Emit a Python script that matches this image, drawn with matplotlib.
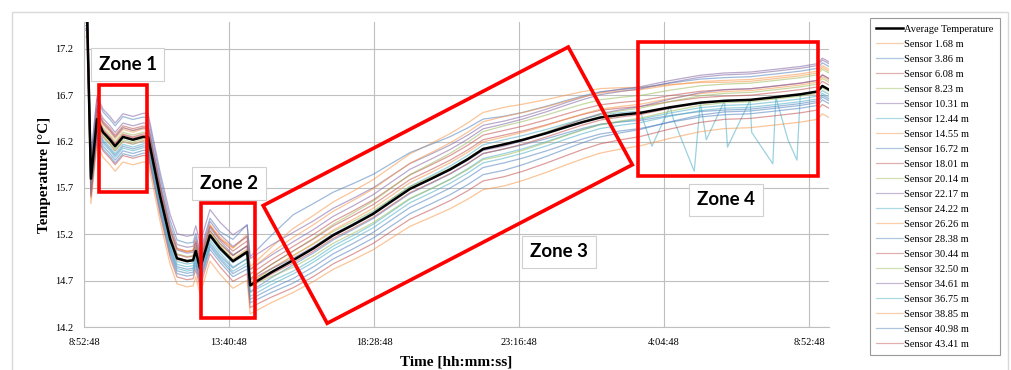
import numpy as np
import matplotlib
matplotlib.use("Agg")
import matplotlib.pyplot as plt
from matplotlib.patches import Rectangle, Polygon

# Average temperature, hours since 8:52:48
avg_t = [0.0, 0.1, 0.23, 0.43, 0.63, 0.86, 1.03, 1.29, 1.62, 1.95, 2.12,
         2.52, 2.85, 3.08, 3.41, 3.61, 3.70, 3.84, 4.17, 4.50, 4.93, 5.40,
         5.50, 6.2, 6.92, 7.6, 8.25, 8.9, 9.57, 10.2, 10.79, 11.5, 12.12,
         12.7, 13.21, 13.9, 14.54, 15.3, 15.99, 16.5, 17.09, 17.8, 18.41,
         19.4, 20.40, 21.2, 22.05, 22.9, 23.71, 24.27, 24.44, 24.66]
avg_v = [17.6, 17.6, 15.80, 16.44, 16.30, 16.22, 16.15, 16.25, 16.22, 16.25, 16.25,
         15.61, 15.15, 14.94, 14.91, 14.92, 15.02, 14.83, 15.19, 15.05, 14.91, 15.01,
         14.65, 14.79, 14.92, 15.05, 15.19, 15.30, 15.42, 15.56, 15.69, 15.80, 15.90,
         16.01, 16.12, 16.17, 16.22, 16.29, 16.36, 16.41, 16.46, 16.49, 16.51,
         16.57, 16.62, 16.64, 16.65, 16.68, 16.71, 16.74, 16.80, 16.76]

sensors = ['1.68', '3.86', '6.08', '8.23', '10.31', '12.44', '14.55', '16.72',
           '18.01', '20.14', '22.17', '24.22', '26.26', '28.38', '30.44', '32.50',
           '34.61', '36.75', '38.85', '40.98', '43.41']

# offset of each sensor from the average, read at zone 1, zone 2, early zone 3, late zone 3, zone 4
phase_t = [1.5, 4.5, 7.0, 14.0, 21.0]
offsets = [
    [0.10, 0.10, 0.35, 0.40, 0.20],
    [0.22, 0.18, 0.50, 0.30, 0.25],
    [0.12, 0.10, 0.15, 0.15, 0.12],
    [0.05, 0.05, 0.10, 0.20, 0.18],
    [0.25, 0.28, 0.30, 0.25, 0.30],
    [-0.05, -0.02, 0.00, 0.05, 0.00],
    [0.08, 0.12, 0.25, 0.30, 0.22],
    [-0.10, -0.08, -0.05, -0.05, -0.10],
    [0.03, 0.05, 0.10, 0.10, 0.05],
    [0.00, 0.00, 0.05, 0.00, 0.08],
    [0.15, 0.15, 0.20, 0.22, 0.28],
    [-0.08, -0.05, -0.12, -0.10, -0.05],
    [-0.05, 0.02, 0.05, 0.08, 0.10],
    [-0.15, -0.12, -0.20, -0.20, -0.15],
    [0.02, 0.00, -0.03, -0.05, 0.00],
    [-0.03, 0.03, -0.08, -0.12, -0.02],
    [0.10, 0.08, 0.02, -0.02, 0.12],
    [-0.12, -0.10, -0.15, -0.15, -0.08],
    [-0.27, -0.28, -0.35, -0.45, -0.30],
    [-0.18, -0.15, -0.25, -0.28, -0.12],
    [-0.20, -0.20, -0.30, -0.35, -0.20],
]

# dips of sensor 12.44 m in zone 4
dip_t = [18.8, 19.5, 20.2, 20.6, 21.3, 22.1, 22.8, 23.3, 23.6]
dip_v = [16.15, 16.45, 15.88, 16.22, 16.14, 16.30, 15.96, 16.22, 16.00]

tick_pos = [0, 4.8, 9.6, 14.4, 19.2, 24.0]
tick_labels = ['8:52:48', '13:40:48', '18:28:48', '23:16:48', '4:04:48', '8:52:48']
y_ticks = [14.2, 14.7, 15.2, 15.7, 16.2, 16.7, 17.2]

colors = ['#F79646', '#4F81BD', '#C0504D', '#9BBB59', '#8064A2', '#4BACC6']

serif = 'Liberation Serif'
W, H = 1011, 370
fig = plt.figure(figsize=(W / 100, H / 100), dpi=100)
ax = fig.add_axes([84 / W, 1 - 327 / H, 745 / W, 305 / H])

t = np.array(avg_t)
v = np.array(avg_v)
handles = []
for i, name in enumerate(sensors):
    off = np.interp(t, phase_t, offsets[i])
    st, sv = t, v + off
    if name == '12.44':
        st = np.concatenate([t, dip_t])
        sv = np.concatenate([sv, dip_v])
        order = np.argsort(st)
        st, sv = st[order], sv[order]
    h, = ax.plot(st, sv, color=colors[i % 6], lw=0.9, alpha=0.55,
                 label='Sensor %s m' % name)
    handles.append(h)
havg, = ax.plot(t, v, color='black', lw=1.8, label='Average Temperature', zorder=5)

ax.set_xlim(0, 24.66)
ax.set_ylim(14.2, 17.49)
ax.set_xticks(tick_pos)
ax.set_xticklabels(tick_labels, fontfamily=serif, fontsize=7.5)
ax.set_yticks(y_ticks)
ax.set_yticklabels(['%.1f' % y for y in y_ticks], fontfamily=serif, fontsize=7.5)
ax.tick_params(length=0, pad=8)
ax.grid(True, color='#BFBFBF', lw=0.8)
for s in ['top', 'right']:
    ax.spines[s].set_visible(False)
for s in ['left', 'bottom']:
    ax.spines[s].set_color('#BFBFBF')
ax.set_xlabel('Time [hh:mm:ss]', fontfamily=serif, fontsize=11, fontweight='bold', labelpad=6)
ax.set_ylabel('Temperature [°C]', fontfamily=serif, fontsize=11, fontweight='bold', labelpad=3)

# zone highlights
red = dict(fill=False, edgecolor='#FF0000', lw=2.6, zorder=6, clip_on=False)
ax.add_patch(Rectangle((0.50, 15.66), 1.59, 1.15, **red))
ax.add_patch(Rectangle((3.87, 14.30), 1.79, 1.24, **red))
ax.add_patch(Rectangle((18.34, 15.83), 5.96, 1.44, **red))
ax.add_patch(Polygon([(5.93, 15.51), (16.03, 17.22), (18.15, 15.95), (8.05, 14.24)],
                     closed=True, **red))

box = dict(boxstyle='square,pad=0.42', facecolor='white', edgecolor='#D0D0D0', lw=0.8)
for txt, x, y in [('Zone 1', 1.44, 17.03), ('Zone 2', 4.80, 15.75),
                  ('Zone 3', 15.73, 15.01), ('Zone 4', 21.26, 15.57)]:
    ax.text(x, y, txt, fontfamily='Lato', fontsize=13.5, fontweight='bold',
            ha='center', va='center', bbox=box, zorder=7)

leg = fig.legend([havg] + handles, [havg.get_label()] + [h.get_label() for h in handles],
                 loc='upper right', bbox_to_anchor=(1000 / W, 1 - 18 / H),
                 prop={'family': serif, 'size': 7.5}, frameon=True, fancybox=False,
                 edgecolor='#808080', labelspacing=0.55, handlelength=2.6,
                 handletextpad=0.1, borderpad=0.6, borderaxespad=0)
leg.get_frame().set_linewidth(0.8)
for lh in leg.get_lines()[1:]:
    lh.set_alpha(0.45)

# light frame round the whole chart (open at the bottom)
fig.patches.append(Rectangle((12 / W, -0.05), 996 / W, 1.05 - 12 / H, transform=fig.transFigure,
                             fill=False, edgecolor='#D9D9D9', lw=1.0))

fig.savefig('out.png', dpi=100)
